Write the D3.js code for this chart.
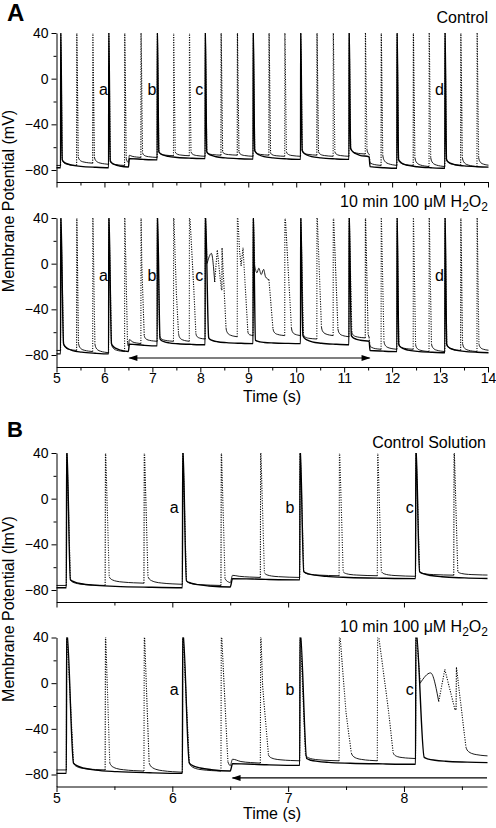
<!DOCTYPE html>
<html><head><meta charset="utf-8">
<script src="https://cdn.jsdelivr.net/npm/d3@7"></script>
<style>
body{margin:0;background:#fff;}
svg text{font-family:"Liberation Sans",Arial,sans-serif;fill:#000;}
</style></head><body>
<svg id="c" width="496" height="828"></svg>
<script>
// ---------------- data ----------------
const xMajorA = [5,6,7,8,9,10,11,12,13,14];
const xMinorA = [5.5,6.5,7.5,8.5,9.5,10.5,11.5,12.5,13.5];
const xMajorB = [5,6,7,8];
const xMinorB = [5.5,6.5,7.5,8.5];
const yMajor = [40,0,-40,-80];
const yMinor = [20,-20,-60];
const xDomainA = [5,14];
const xDomainB = [5,8.717];
const yDomain = [-90.5,40];

// relative shape of the slow decay after each spike: [fraction of interval, fraction of drop]
const decayShape = [[0,0],[0.04,0.3],[0.1,0.5],[0.2,0.68],[0.4,0.83],[0.7,0.94],[1,1]];

// rows: [spike time s, peak mV, repolarisation points [[dt s, mV]], foot dt s, foot mV, mV before next spike]
const ctrlSolidStart = -78;
const ctrlSolid = [
  [5.085,48,[],0.035,-71,-78],
  [6.087,48,[],0.035,-72,-78.6],
  [7.1,48,[],0.035,-64,-70],
  [8.1,48,[],0.035,-64,-70.5],
  [9.1,48,[],0.035,-63,-70.7],
  [10.09,48,[],0.035,-63,-70.7],
  [11.1,48,[],0.035,-61,-70],
  [12.1,48,[],0.035,-70.7,-78.5],
  [13.1,48,[],0.035,-71,-77.5]
];
const ctrlSolidSteps = [[6.5,7.5],[11.52,-8.5]];

const ctrlDotStart = -76;
const ctrlDot = [
  [5.085,48,[],0.035,-71,-76],
  [5.42,48,[],0.035,-68.5,-74],
  [5.755,48,[],0.035,-68.5,-75],
  [6.087,48,[],0.035,-72,-76],
  [6.42,48,[],0.035,-70,-76],
  [6.76,48,[],0.035,-65,-69],
  [7.1,48,[],0.035,-64,-67.5],
  [7.44,48,[],0.035,-64,-67.5],
  [7.77,48,[],0.035,-64,-68],
  [8.1,48,[],0.035,-64,-67],
  [8.43,48,[],0.035,-64,-67],
  [8.77,48,[],0.035,-64,-68],
  [9.1,48,[],0.035,-63,-67],
  [9.43,48,[],0.035,-65,-68],
  [9.76,48,[],0.035,-64,-68],
  [10.09,48,[],0.035,-63,-67],
  [10.43,48,[],0.035,-64,-68],
  [10.77,48,[],0.035,-64,-68],
  [11.1,48,[],0.035,-61,-66],
  [11.44,48,[],0.035,-62,-69],
  [11.77,48,[],0.035,-67,-76],
  [12.1,48,[],0.035,-70.7,-76],
  [12.44,48,[],0.035,-69,-77],
  [12.77,48,[],0.035,-69,-77],
  [13.1,48,[],0.035,-70,-76],
  [13.43,48,[],0.035,-69,-77],
  [13.77,48,[],0.035,-69,-76]
];
const ctrlDotSteps = [[6.5,7],[11.52,-7]];

const h2SolidStart = -79;
const h2Solid = [
  [5.085,48,[],0.062,-70,-79],
  [6.087,48,[],0.06,-70,-78.5],
  [7.1,48,[],0.06,-66,-71],
  [8.1,48,[],0.075,-65,-70],
  [9.1,48,[],0.05,-67,-70],
  [10.09,48,[],0.05,-63,-71],
  [11.1,48,[],0.05,-63,-69],
  [12.1,48,[],0.04,-71,-78],
  [13.1,48,[],0.04,-71,-78]
];
const h2SolidSteps = [[6.5,6.5],[11.52,-8]];

const h2DotStart = -76;
const h2Dot = [
  [5.085,48,[],0.062,-70,-76],
  [5.42,48,[],0.04,-70,-77],
  [5.755,48,[],0.045,-70,-78],
  [6.087,48,[],0.06,-70,-77],
  [6.42,48,[],0.06,-69,-77],
  [6.76,48,[[0.02,-3]],0.07,-63,-68],
  [7.1,48,[],0.05,-63,-68],
  [7.44,48,[[0.06,-26]],0.105,-61,-68],
  [7.77,48,[[0.094,-22]],0.137,-61,-66],
  [8.1,48,[[0.04,0],[0.13,9],[0.2,-16],[0.253,12]],0.34,-23,-23],
  [8.45,14,[],0.085,-56,-64],
  [8.77,48,[[0.05,10],[0.08,-2],[0.12,14]],0.22,-59,-63],
  [9.1,48,[[0.034,-2],[0.08,-8],[0.12,-4],[0.17,-9.5],[0.22,-5],[0.26,-11.5],[0.33,-14]],0.416,-57,-63],
  [9.76,48,[],0.14,-56,-63],
  [10.09,48,[],0.06,-62,-66],
  [10.43,48,[],0.095,-55,-63],
  [10.77,48,[],0.1,-57,-64],
  [11.1,48,[],0.06,-60,-65],
  [11.44,48,[],0.06,-62,-68],
  [11.77,48,[],0.06,-68,-75],
  [12.1,48,[],0.04,-70,-75],
  [12.44,48,[],0.05,-71,-77],
  [12.77,48,[],0.05,-70,-77],
  [13.1,48,[],0.04,-70,-76],
  [13.43,48,[],0.04,-70,-77],
  [13.77,48,[],0.04,-70,-76]
];
const h2DotSteps = [[6.5,7],[11.52,-7]];

const markLetters = ["a","b","c","d"];
const markTimesA = [5.98,6.99,7.98,12.99];
const markTimesB = [6.017,7.016,8.05];
const markLevels = [-14,-15.5,-12.3,-10.3];
const arrowA = [6.52,11.53,-82.6];
const arrowB = [6.52,8.717,-83];

// ---------------- helpers ----------------
const svg = d3.select("#c");
const FONT = "Liberation Sans, Arial, sans-serif";

function gAt(tau){
  for(let i=1;i<decayShape.length;i++){
    const [a,ga]=decayShape[i-1],[b,gb]=decayShape[i];
    if(tau<=b) return ga+(gb-ga)*(tau-a)/(b-a);
  }
  return 1;
}

function buildTrace(start, rows, steps, tEnd){
  const pts=[[4.99,start]];
  let prev=start;
  rows.forEach((r,i)=>{
    const [t0,peak,repol,fdt,fv,ev]=r;
    const tNext = i<rows.length-1 ? rows[i+1][0] : tEnd;
    pts.push([t0,prev]);
    pts.push([t0+0.003,peak]);
    repol.forEach(([dt,v])=>pts.push([t0+dt,v]));
    const tf=t0+fdt;
    pts.push([tf,fv]);
    const step=steps.find(s=>s[0]>tf && s[0]<tNext);
    const span=tNext-tf;
    const val=(t)=>fv+(ev-fv)*gAt((t-tf)/span)+(step && t>=step[0]+0.02 ? step[1]:0);
    let dp=[];
    decayShape.forEach(([tau])=>{ if(tau>0) dp.push(tf+tau*span); });
    if(step){
      dp=dp.filter(t=>!(t>step[0]-0.01 && t<step[0]+0.045));
      dp.push(step[0]); dp.push(step[0]+0.02);
      dp.sort((a,b)=>a-b);
    }
    dp.forEach(t=>pts.push([t,val(t)]));
    prev=pts[pts.length-1][1];
  });
  return pts;
}

function splitRuns(pts){
  // steep parts of the sparse-sampled sweep appear dotted
  const runs=[]; let cur=null;
  for(let i=1;i<pts.length;i++){
    const a=pts[i-1],b=pts[i];
    const steep=Math.abs((b[1]-a[1])/(b[0]-a[0]))>370;
    if(!cur || cur.steep!==steep){ cur={steep,pts:[a]}; runs.push(cur); }
    cur.pts.push(b);
  }
  return runs;
}

let clipId=0;
function panel(opts){
  const {xDom,xr,yTop,yBot,xMaj,xMin,labels,solid,dot,tEnd} = opts;
  const x=d3.scaleLinear().domain(xDom).range(xr);
  const y=d3.scaleLinear().domain(yDomain).range([yBot,yTop]);
  const g=svg.append("g");
  const id="clip"+(clipId++);
  svg.append("clipPath").attr("id",id).append("rect")
    .attr("x",xr[0]).attr("y",yTop).attr("width",xr[1]-xr[0]+0.5).attr("height",yBot-yTop);
  const tg=g.append("g").attr("clip-path",`url(#${id})`);
  const line=d3.line().x(d=>x(d[0])).y(d=>y(d[1]));
  const dpts=buildTrace(dot.start,dot.rows,dot.steps,tEnd);
  splitRuns(dpts).forEach(r=>{
    tg.append("path").datum(r.pts)
      .attr("d",line.curve(r.steep?d3.curveLinear:d3.curveMonotoneX))
      .attr("fill","none").attr("stroke","#000")
      .attr("stroke-width",r.steep?1.1:0.9)
      .attr("stroke-dasharray",r.steep?"1.1,1.4":null);
  });
  const spts=buildTrace(solid.start,solid.rows,solid.steps,tEnd);
  tg.append("path").datum(spts)
    .attr("d",d3.line().x(d=>x(d[0])).y(d=>y(d[1])).curve(d3.curveMonotoneX))
    .attr("fill","none").attr("stroke","#000").attr("stroke-width",1.4);

  const axStyle=s=>{s.selectAll("path,line").attr("stroke","#000").attr("stroke-width",1);
    s.selectAll("text").attr("font-size",14).attr("font-family",FONT);};
  const fmt=d3.format("~g");
  g.append("g").attr("transform",`translate(${xr[0]},0)`)
    .call(d3.axisLeft(y).tickValues(yMajor).tickFormat(fmt).tickSize(5).tickPadding(3).tickSizeOuter(0)).call(axStyle);
  g.append("g").attr("transform",`translate(${xr[0]},0)`)
    .call(d3.axisLeft(y).tickValues(yMinor).tickSize(3).tickFormat("").tickSizeOuter(0)).call(axStyle)
    .select(".domain").remove();
  const xa=d3.axisBottom(x).tickValues(xMaj).tickSize(5.5).tickPadding(1).tickSizeOuter(0).tickFormat(labels?fmt:"");
  g.append("g").attr("transform",`translate(0,${yBot})`).call(xa).call(axStyle);
  g.append("g").attr("transform",`translate(0,${yBot})`)
    .call(d3.axisBottom(x).tickValues(xMin).tickSize(3.5).tickFormat("").tickSizeOuter(0)).call(axStyle)
    .select(".domain").remove();
  return {x,y,g};
}

function marks(p,times,level){
  times.forEach((t,i)=>{
    p.g.append("text").attr("x",p.x(t)).attr("y",p.y(level)).attr("text-anchor","middle")
      .attr("font-size",16).text(markLetters[i]);
  });
}
function arrow(p,a,left,right){
  const [t1,t2,v]=a; const y=p.y(v), x1=p.x(t1), x2=p.x(t2);
  p.g.append("line").attr("x1",x1).attr("x2",x2).attr("y1",y).attr("y2",y).attr("stroke","#000").attr("stroke-width",1.2);
  if(left) p.g.append("path").attr("d",`M${x1-1},${y}L${x1+8},${y-3}L${x1+8},${y+3}Z`).attr("fill","#000");
  if(right) p.g.append("path").attr("d",`M${x2+1},${y}L${x2-8},${y-3}L${x2-8},${y+3}Z`).attr("fill","#000");
}
function h2Label(xr,yb){
  const t=svg.append("text").attr("x",xr).attr("y",yb).attr("text-anchor","end").attr("font-size",16);
  t.append("tspan").text("10 min 100 \u03BCM H");
  t.append("tspan").attr("font-size",12).attr("dy",4).text("2");
  t.append("tspan").attr("dy",-4).text("O");
  t.append("tspan").attr("font-size",12).attr("dy",4).text("2");
}

const ctrlTraces={solid:{start:ctrlSolidStart,rows:ctrlSolid,steps:ctrlSolidSteps},dot:{start:ctrlDotStart,rows:ctrlDot,steps:ctrlDotSteps}};
const h2Traces={solid:{start:h2SolidStart,rows:h2Solid,steps:h2SolidSteps},dot:{start:h2DotStart,rows:h2Dot,steps:h2DotSteps}};

const pA1=panel({xDom:xDomainA,xr:[56.5,488],yTop:33,yBot:182,xMaj:xMajorA,xMin:xMinorA,labels:false,tEnd:14.05,...ctrlTraces});
const pA2=panel({xDom:xDomainA,xr:[56.5,488],yTop:218,yBot:367,xMaj:xMajorA,xMin:xMinorA,labels:true,tEnd:14.05,...h2Traces});
marks(pA1,markTimesA,markLevels[0]);
marks(pA2,markTimesA,markLevels[1]);
arrow(pA2,arrowA,true,true);
const pB1=panel({xDom:xDomainB,xr:[56.5,487],yTop:453,yBot:602,xMaj:xMajorB,xMin:xMinorB,labels:false,tEnd:9.2,...ctrlTraces});
const pB2=panel({xDom:xDomainB,xr:[56.5,487],yTop:637.5,yBot:786.5,xMaj:xMajorB,xMin:xMinorB,labels:true,tEnd:9.2,...h2Traces});
marks(pB1,markTimesB,markLevels[2]);
marks(pB2,markTimesB,markLevels[3]);
arrow(pB2,arrowB,true,false);

svg.append("text").attr("x",7).attr("y",21).attr("font-size",24).attr("font-weight","bold").text("A");
svg.append("text").attr("x",7).attr("y",437).attr("font-size",22).attr("font-weight","bold").text("B");
svg.append("text").attr("x",488).attr("y",23).attr("text-anchor","end").attr("font-size",16).text("Control");
h2Label(488,206.5);
svg.append("text").attr("x",486).attr("y",448).attr("text-anchor","end").attr("font-size",16).text("Control Solution");
h2Label(488,632);
svg.append("text").attr("x",272).attr("y",402).attr("text-anchor","middle").attr("font-size",16).text("Time (s)");
svg.append("text").attr("x",272).attr("y",819).attr("text-anchor","middle").attr("font-size",16).text("Time (s)");
svg.append("text").attr("transform","translate(14,201) rotate(-90)").attr("text-anchor","middle").attr("font-size",16).text("Membrane Potential (mV)");
svg.append("text").attr("transform","translate(14,609) rotate(-90)").attr("text-anchor","middle").attr("font-size",16).text("Membrane Potential (lmV)");
</script></body></html>
